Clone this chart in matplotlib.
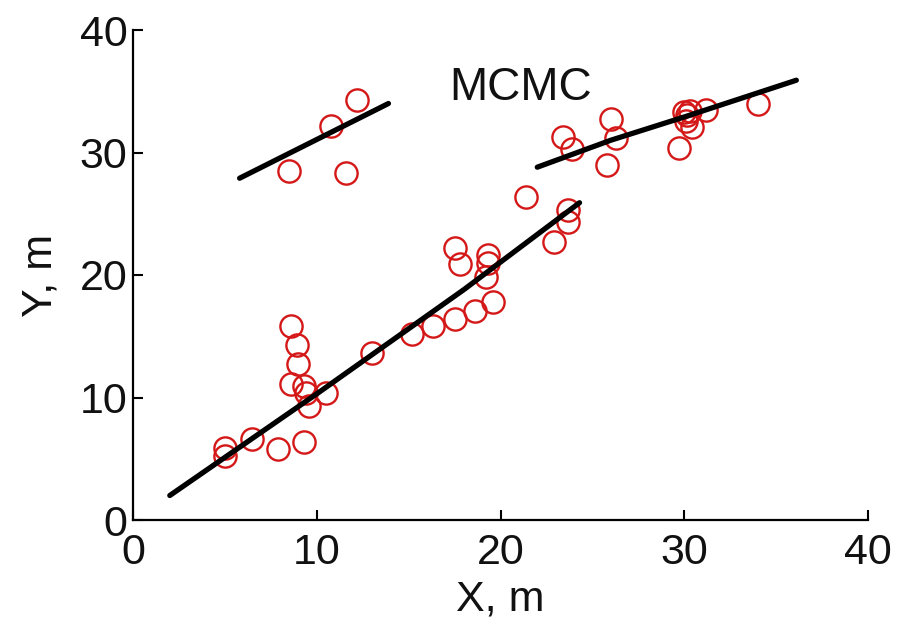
import matplotlib
matplotlib.use("Agg")
import matplotlib.pyplot as plt

# Observed points
x_pts = [5.0, 5.0, 6.5, 7.9, 9.3, 8.6, 8.9, 9.0, 8.6, 9.3, 9.4, 9.6, 10.5,
         13.0, 15.2, 16.3, 17.5, 18.6, 19.6, 17.5, 17.8, 19.3, 19.3, 19.2,
         21.4, 22.9, 23.7, 23.7, 23.4, 23.9, 25.8, 26.0, 26.3, 29.7,
         30.15, 30.4, 30.0, 30.3, 30.1, 31.2, 34.0,
         8.5, 10.8, 12.2, 11.6]
y_pts = [5.9, 5.2, 6.6, 5.8, 6.4, 15.8, 14.3, 12.7, 11.1, 10.9, 10.4, 9.3, 10.4,
         13.6, 15.2, 15.8, 16.4, 17.1, 17.8, 22.2, 20.9, 21.6, 21.0, 19.8,
         26.4, 22.7, 25.3, 24.3, 31.3, 30.3, 29.0, 32.7, 31.2, 30.4,
         33.1, 32.1, 33.3, 33.4, 32.6, 33.5, 34.0,
         28.5, 32.2, 34.3, 28.3]

# Fitted (MCMC) curves
line1_x = [2.0, 10.0, 18.0, 24.3]
line1_y = [2.0, 10.3, 18.8, 25.9]
line2_x = [22.0, 26.0, 30.0, 36.1]
line2_y = [28.8, 31.0, 32.9, 35.9]
line3_x = [5.8, 13.9]
line3_y = [27.9, 34.0]

ticks = [0, 10, 20, 30, 40]
label_text = "MCMC"

plt.rcParams['font.family'] = ['Liberation Sans', 'DejaVu Sans']

fig = plt.figure(figsize=(8.99, 6.25), dpi=100)
ax = fig.add_axes([0.148, 0.168, 0.8175, 0.784])

ax.plot(x_pts, y_pts, linestyle='none', marker='o', markersize=16,
        markerfacecolor='none', markeredgecolor='#d41818', markeredgewidth=1.7)
for lx, ly in [(line1_x, line1_y), (line2_x, line2_y), (line3_x, line3_y)]:
    ax.plot(lx, ly, color='black', linewidth=3.8, solid_capstyle='round')

ax.text(21.1, 35.3, label_text, fontsize=33, ha='center', va='center',
        color='#111111')

ax.set_xlim(0, 40)
ax.set_ylim(0, 40)
ax.set_xticks(ticks)
ax.set_yticks(ticks)
ax.tick_params(direction='in', length=7, width=1.5, labelsize=31,
               labelcolor='#111111')
ax.tick_params(axis='x', pad=9)
ax.tick_params(axis='y', pad=4)
for s in ['top', 'right']:
    ax.spines[s].set_visible(False)
for s in ['left', 'bottom']:
    ax.spines[s].set_linewidth(1.6)
ax.set_xlabel("X, m", fontsize=31, labelpad=5, color='#111111')
ax.set_ylabel("Y, m", fontsize=31, labelpad=14, color='#111111')

fig.savefig("out.png", dpi=100)
